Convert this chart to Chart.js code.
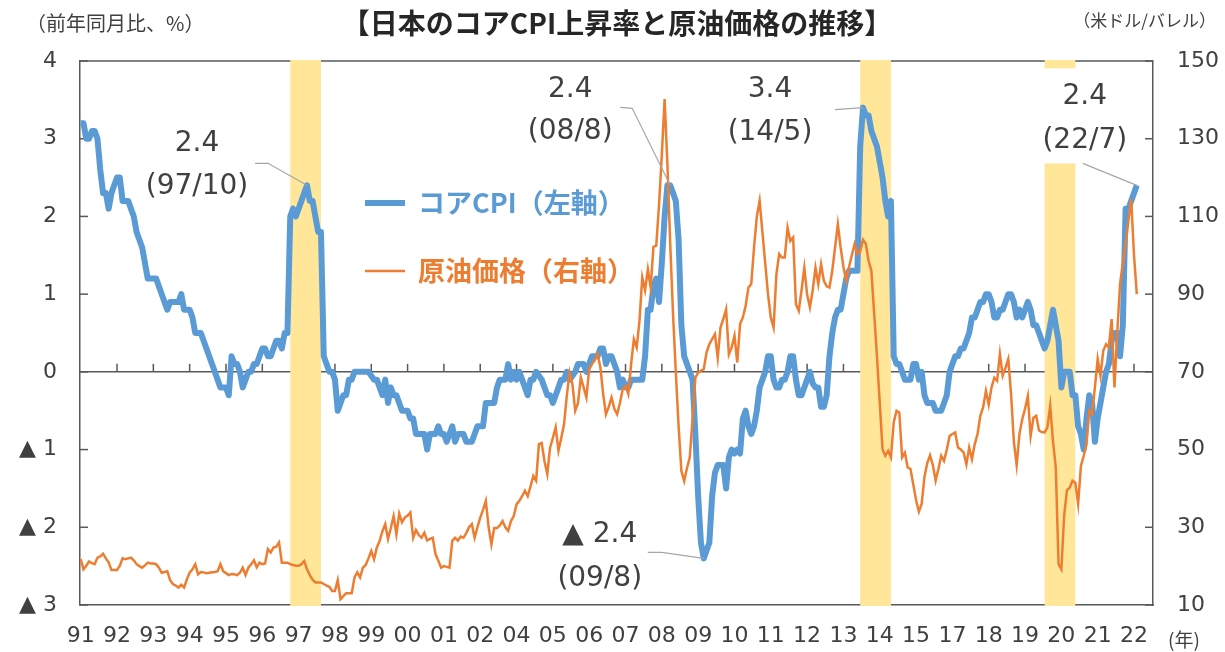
<!DOCTYPE html>
<html>
<head>
<meta charset="utf-8">
<script src="https://cdn.jsdelivr.net/npm/chart.js@4.4.0/dist/chart.umd.min.js"></script>
<style>
  html, body { margin: 0; padding: 0; background: #fff; }
  canvas { display: block; }
</style>
</head>
<body>
<canvas id="chart" width="1225" height="652"></canvas>
<script>
// Monthly data, first point = 1991/1, last point = 2022/7
// Core CPI, % y/y (left axis)
const coreCpi = [
  3.2, 3.2, 3.0, 3.0, 3.1, 3.1, 3.0, 2.6, 2.3, 2.3, 2.1, 2.3,        // 1991
  2.4, 2.5, 2.5, 2.2, 2.2, 2.2, 2.1, 2.0, 1.8, 1.7, 1.6, 1.4,        // 1992
  1.2, 1.2, 1.2, 1.2, 1.1, 1.0, 0.9, 0.8, 0.9, 0.9, 0.9, 0.9,        // 1993
  1.0, 0.8, 0.8, 0.8, 0.7, 0.5, 0.5, 0.5, 0.4, 0.3, 0.2, 0.1,        // 1994
  0.0, -0.1, -0.2, -0.2, -0.2, -0.3, 0.2, 0.1, 0.1, 0.0, -0.2, -0.1, // 1995
  0.0, 0.0, 0.1, 0.1, 0.2, 0.3, 0.3, 0.2, 0.2, 0.3, 0.4, 0.4,        // 1996
  0.3, 0.5, 0.5, 2.0, 2.1, 2.0, 2.1, 2.2, 2.3, 2.4, 2.2, 2.2,        // 1997
  2.0, 1.8, 1.8, 0.2, 0.1, 0.0, 0.0, -0.1, -0.5, -0.4, -0.3, -0.3,   // 1998
  -0.1, -0.1, 0.0, 0.0, 0.0, 0.0, 0.0, 0.0, -0.05, -0.1, -0.1, -0.2, // 1999
  -0.3, -0.1, -0.4, -0.2, -0.3, -0.3, -0.4, -0.5, -0.5, -0.5, -0.6, -0.6, // 2000
  -0.8, -0.8, -0.8, -0.8, -1.0, -0.8, -0.8, -0.8, -0.7, -0.8, -0.8, -0.9, // 2001
  -0.8, -0.7, -0.9, -0.8, -0.8, -0.8, -0.9, -0.9, -0.9, -0.8, -0.7, -0.7, // 2002
  -0.7, -0.4, -0.4, -0.4, -0.4, -0.2, -0.1, -0.1, -0.1, 0.1, -0.1, 0.0,   // 2003
  -0.1, 0.0, -0.1, -0.2, -0.3, -0.1, -0.1, 0.0, -0.05, -0.1, -0.2, -0.3,  // 2004
  -0.3, -0.4, -0.3, -0.2, -0.1, -0.1, 0.0, -0.1, -0.05, 0.0, 0.1, 0.1,    // 2005
  0.1, 0.0, 0.1, 0.2, 0.2, 0.2, 0.3, 0.3, 0.1, 0.2, 0.2, 0.1,        // 2006
  0.0, -0.2, -0.1, -0.2, -0.2, -0.1, -0.1, -0.1, -0.1, -0.1, 0.2, 0.8, // 2007
  0.8, 1.1, 1.2, 0.9, 1.4, 2.0, 2.4, 2.4, 2.3, 2.2, 1.7, 0.6,        // 2008
  0.2, 0.1, 0.0, -0.1, -0.8, -1.6, -2.2, -2.4, -2.3, -2.2, -1.6, -1.3, // 2009
  -1.2, -1.2, -1.2, -1.5, -1.1, -1.0, -1.05, -1.0, -1.05, -0.6, -0.5, -0.7, // 2010
  -0.8, -0.7, -0.5, -0.2, -0.1, 0.0, 0.2, 0.2, -0.1, -0.2, -0.2, -0.1, // 2011
  -0.1, 0.0, 0.2, 0.2, -0.1, -0.3, -0.3, -0.2, -0.1, 0.0, -0.15, -0.2, // 2012
  -0.2, -0.45, -0.45, -0.3, 0.2, 0.5, 0.7, 0.8, 0.8, 1.0, 1.2, 1.3,    // 2013
  1.3, 1.3, 1.3, 2.9, 3.4, 3.3, 3.3, 3.1, 3.0, 2.9, 2.7, 2.5,        // 2014
  2.2, 2.0, 2.2, 0.2, 0.1, 0.1, 0.0, -0.1, -0.1, -0.1, 0.1, 0.1,     // 2015
  -0.1, 0.0, -0.3, -0.4, -0.4, -0.4, -0.5, -0.5, -0.5, -0.4, -0.3, 0.0, // 2016
  0.1, 0.2, 0.2, 0.3, 0.3, 0.4, 0.5, 0.7, 0.7, 0.8, 0.9, 0.9,        // 2017
  1.0, 1.0, 0.9, 0.7, 0.7, 0.8, 0.8, 0.9, 1.0, 1.0, 0.9, 0.7,        // 2018
  0.8, 0.7, 0.8, 0.9, 0.8, 0.6, 0.6, 0.5, 0.4, 0.3, 0.4, 0.6,        // 2019
  0.8, 0.6, 0.4, -0.2, 0.0, 0.0, 0.0, -0.3, -0.3, -0.7, -0.8, -1.0,  // 2020
  -0.6, -0.3, -0.4, -0.9, -0.6, -0.4, -0.2, 0.0, 0.1, 0.4, 0.5, 0.5, // 2021
  0.2, 0.6, 2.1, 2.1, 2.2, 2.3, 2.4                                  // 2022
];

// Crude oil price, USD/bbl (right axis)
const oilPrice = [
  21.8, 19.2, 20.1, 21.2, 20.8, 20.5, 22.2, 22.5, 23.2, 22.0, 21.0, 19.0, // 1991
  19.0, 19.0, 20.1, 22.0, 21.8, 22.0, 22.2, 21.5, 20.5, 20.0, 19.6, 20.2, // 1992
  20.9, 20.7, 20.7, 20.5, 19.6, 18.3, 18.5, 18.7, 16.4, 15.4, 15.0, 14.5, // 1993
  15.2, 14.5, 16.6, 18.3, 19.2, 20.5, 17.9, 18.5, 18.4, 18.2, 18.3, 18.4, // 1994
  18.5, 18.7, 20.5, 18.7, 18.2, 17.7, 18.0, 17.9, 17.7, 18.3, 19.6, 17.7, // 1995
  19.6, 20.5, 21.5, 19.7, 20.9, 20.5, 20.7, 24.4, 23.5, 24.8, 25.0, 26.1, // 1996
  20.9, 20.9, 20.9, 20.5, 20.3, 20.1, 20.1, 20.5, 21.3, 19.2, 17.7, 16.5, // 1997
  15.8, 15.8, 15.8, 15.4, 15.0, 14.7, 13.6, 13.6, 16.4, 11.5, 12.3, 13.0, // 1998
  13.0, 13.0, 17.1, 18.4, 17.1, 19.6, 20.3, 22.0, 23.9, 21.8, 24.8, 26.5, // 1999
  29.0, 30.8, 27.0, 29.8, 32.9, 28.2, 33.5, 31.3, 32.5, 33.0, 33.8, 27.3, // 2000
  29.3, 28.0, 27.3, 28.6, 26.6, 27.0, 27.3, 23.1, 21.4, 19.6, 20.0, 19.8, // 2001
  19.6, 26.5, 27.3, 26.6, 27.6, 27.3, 28.5, 30.0, 30.8, 27.3, 30.0, 32.5, // 2002
  34.5, 36.8, 30.0, 25.6, 29.8, 29.8, 30.5, 31.6, 30.0, 29.1, 31.6, 32.9, // 2003
  35.9, 36.8, 38.0, 39.4, 38.0, 40.5, 43.2, 42.0, 51.4, 51.7, 47.0, 43.7, // 2004
  50.5, 53.0, 55.7, 49.7, 53.0, 56.5, 64.0, 69.8, 66.8, 60.0, 62.0, 68.6, // 2005
  66.0, 63.4, 70.7, 72.0, 73.0, 74.6, 71.2, 64.3, 59.1, 61.0, 63.4, 60.5, // 2006
  59.1, 62.0, 65.5, 66.4, 64.3, 72.0, 78.4, 76.3, 83.1, 94.3, 91.0, 96.4, // 2007
  91.7, 102.2, 102.5, 113.0, 126.0, 140.2, 123.5, 103.0, 85.0, 70.0, 56.0, 44.5, // 2008
  41.9, 45.2, 48.0, 58.0, 68.5, 69.8, 70.3, 70.7, 75.0, 77.1, 78.4, 79.7, // 2009
  73.6, 81.4, 83.6, 86.1, 74.5, 76.3, 79.3, 72.4, 82.3, 84.0, 87.0, 91.7, // 2010
  92.6, 102.0, 110.0, 114.0, 106.0, 98.0, 90.0, 84.0, 81.4, 95.1, 100.3, 99.4, // 2011
  99.4, 107.1, 103.7, 104.6, 87.4, 85.7, 91.0, 96.8, 89.9, 86.6, 91.0, 96.8, // 2012
  92.6, 97.7, 93.4, 92.0, 91.7, 96.0, 102.0, 108.0, 102.0, 97.0, 93.4, 97.0, // 2013
  100.0, 102.9, 100.3, 101.0, 104.0, 103.0, 98.6, 96.0, 85.0, 74.0, 62.0, 50.0, // 2014
  48.4, 49.7, 48.0, 57.0, 60.0, 59.5, 48.0, 49.2, 45.4, 45.0, 41.0, 37.0, // 2015
  34.0, 36.0, 43.0, 46.5, 48.5, 46.0, 42.0, 45.0, 48.4, 47.1, 50.0, 53.5, // 2016
  54.0, 54.4, 50.5, 50.0, 49.3, 46.2, 50.5, 47.5, 51.4, 54.0, 58.7, 60.9, // 2017
  65.1, 61.6, 66.0, 68.5, 67.7, 74.6, 69.0, 71.0, 73.3, 64.3, 52.0, 46.0, // 2018
  54.0, 57.8, 60.5, 63.8, 53.5, 58.2, 58.7, 54.9, 54.5, 54.4, 55.7, 61.3, // 2019
  52.2, 45.4, 20.5, 19.2, 33.0, 39.5, 40.2, 42.0, 41.5, 36.0, 45.8, 48.4, // 2020
  51.4, 60.0, 59.1, 66.0, 73.3, 69.0, 75.4, 77.1, 76.3, 83.6, 66.0, 80.0, // 2021
  92.6, 98.0, 102.9, 108.9, 114.4, 100.0, 90.0                         // 2022
];

// x-axis labels: one every 13 months from 1991/1
const xTickLabels = ['91','92','93','94','95','96','97','98','99','00','01','02',
  '04','05','06','07','08','09','10','11','12','13','14','15','17','18','19','20','21','22'];
const TICK_EVERY = 13;

// consumption tax hikes, month index from 1991/1: 1997/4, 2014/4, 2019/10
const taxHikeStart = [75, 279, 345];
const TAX_SPAN = 11;

// call-outs on the core CPI line
const calloutMonth = [81, 211, 223, 280, 378];
const calloutValue = [2.4, 2.4, -2.4, 3.4, 2.4];
const calloutDate = ['(97/10)', '(08/8)', '(09/8)', '(14/5)', '(22/7)'];

const BLUE = '#5B9BD5', ORANGE = '#ED7D31', BAND = '#FFE699';
const AXIS = '#595959', TEXT = '#404040', LEADER = '#A6A6A6';
const NUM_FONT = "'DejaVu Sans', Verdana, sans-serif";
const JP_FONT = "'Noto Sans CJK JP', 'Noto Sans', sans-serif";

// where each call-out label sits, relative to its point
const calloutLayout = [
  { tx: -110, ty1: -42, ty2: 1, path: [[-52, -22], [-39, -22]] },
  { tx: -100, ty1: -96, ty2: -54, path: [[-50, -78], [-38, -77]] },
  { tx: -104, ty1: -24, ty2: 20, path: [[-56, -6], [-42, -6]] },
  { tx: -93, ty1: -18, ty2: 25, path: [[-28, 2]] },
  { tx: -52, ty1: -89, ty2: -45, path: [[-54, -22]], box: [-102, -117, 100, 95] }
];

function polyline(ctx, pts) {
  ctx.beginPath();
  ctx.moveTo(pts[0][0], pts[0][1]);
  for (let i = 1; i < pts.length; i++) ctx.lineTo(pts[i][0], pts[i][1]);
  ctx.stroke();
}

const decorations = {
  id: 'decorations',
  beforeDatasetsDraw(chart) {
    const { ctx, chartArea: a, scales: { x, y, y2 } } = chart;
    ctx.save();
    ctx.strokeStyle = AXIS;
    ctx.lineWidth = 1.5;
    polyline(ctx, [[a.left, a.top], [a.right, a.top]]);
    // tick marks point into the plot
    y.ticks.forEach(t => {
      const py = y.getPixelForValue(t.value);
      polyline(ctx, [[a.left, py], [a.left + 8, py]]);
    });
    y2.ticks.forEach(t => {
      const py = y2.getPixelForValue(t.value);
      polyline(ctx, [[a.right - 8, py], [a.right, py]]);
    });
    const zero = y.getPixelForValue(0);
    for (let i = 1; i < xTickLabels.length; i++) {
      const px = x.getPixelForValue(i * TICK_EVERY);
      polyline(ctx, [[px, zero - 8], [px, zero]]);
    }
    // tax hike bands
    ctx.fillStyle = BAND;
    taxHikeStart.forEach(s => {
      const x0 = x.getPixelForValue(s), x1 = x.getPixelForValue(s + TAX_SPAN);
      ctx.fillRect(x0, a.top - 1, x1 - x0, a.bottom - a.top + 2);
    });
    // label boxes with white fill
    ctx.fillStyle = '#fff';
    calloutLayout.forEach((l, i) => {
      if (!l.box) return;
      const px = x.getPixelForValue(calloutMonth[i]), py = y.getPixelForValue(calloutValue[i]);
      ctx.fillRect(px + l.box[0], py + l.box[1], l.box[2], l.box[3]);
    });
    ctx.restore();
  },
  afterDatasetsDraw(chart) {
    const { ctx, scales: { x, y } } = chart;
    ctx.save();
    // call-outs
    calloutLayout.forEach((l, i) => {
      const px = x.getPixelForValue(calloutMonth[i]), py = y.getPixelForValue(calloutValue[i]);
      ctx.strokeStyle = LEADER;
      ctx.lineWidth = 1.2;
      polyline(ctx, l.path.map(p => [px + p[0], py + p[1]]).concat([[px, py]]));
      const v = calloutValue[i];
      const num = v < 0 ? '▲ ' + Math.abs(v).toFixed(1) : v.toFixed(1);
      ctx.fillStyle = TEXT;
      ctx.font = '28px ' + NUM_FONT;
      ctx.textAlign = 'center';
      ctx.textBaseline = 'middle';
      ctx.fillText(num, px + l.tx, py + l.ty1);
      ctx.fillText(calloutDate[i], px + l.tx, py + l.ty2);
    });

    // legend inside plot
    ctx.lineCap = 'butt';
    ctx.strokeStyle = BLUE; ctx.lineWidth = 6;
    polyline(ctx, [[365, 203], [405, 203]]);
    ctx.strokeStyle = ORANGE; ctx.lineWidth = 2.5;
    polyline(ctx, [[365, 271], [405, 271]]);
    ctx.textAlign = 'left';
    ctx.textBaseline = 'middle';
    ctx.font = 'bold 27px ' + JP_FONT;
    ctx.fillStyle = BLUE;
    ctx.fillText('コアCPI（左軸）', 418, 203);
    ctx.fillStyle = ORANGE;
    ctx.fillText('原油価格（右軸）', 418, 271);

    // title and unit labels
    ctx.fillStyle = '#262626';
    ctx.textAlign = 'center';
    ctx.font = 'bold 28px ' + JP_FONT;
    ctx.fillText('【日本のコアCPI上昇率と原油価格の推移】', 617, 23);
    ctx.fillStyle = TEXT;
    ctx.font = '20px ' + JP_FONT;
    ctx.textAlign = 'left';
    ctx.fillText('（前年同月比、%）', 26, 23);
    ctx.font = '17px ' + JP_FONT;
    ctx.textAlign = 'right';
    ctx.fillText('（米ドル/バレル）', 1216, 21);
    ctx.textAlign = 'left';
    ctx.font = '19px ' + JP_FONT;
    ctx.fillText('(年)', 1168, 640);
    ctx.restore();
  }
};

const tickFont = { family: NUM_FONT, size: 22 };

new Chart(document.getElementById('chart'), {
  type: 'line',
  data: {
    datasets: [
      {
        label: '原油価格（右軸）',
        data: oilPrice.map((v, i) => ({ x: i, y: v })),
        yAxisID: 'y2',
        borderColor: ORANGE,
        borderWidth: 2.5,
        pointRadius: 0,
        tension: 0
      },
      {
        label: 'コアCPI（左軸）',
        data: coreCpi.map((v, i) => ({ x: i, y: v })),
        yAxisID: 'y',
        borderColor: BLUE,
        borderWidth: 6,
        borderJoinStyle: 'round',
        pointRadius: 0,
        tension: 0
      }
    ]
  },
  options: {
    responsive: false,
    animation: false,
    events: [],
    layout: { padding: { top: 61 } },
    plugins: { legend: { display: false }, tooltip: { enabled: false } },
    scales: {
      x: {
        type: 'linear',
        min: -0.25,
        max: 383.8,
        afterBuildTicks: s => { s.ticks = xTickLabels.map((_, i) => ({ value: i * TICK_EVERY })); },
        afterFit: s => { s.height = 47; },
        ticks: {
          autoSkip: false, maxRotation: 0, minRotation: 0,
          callback: (v, i) => xTickLabels[i],
          font: tickFont, color: TEXT, padding: 18
        },
        grid: { display: false, drawTicks: false },
        border: { display: true, color: AXIS, width: 1.5 }
      },
      y: {
        position: 'left',
        min: -3, max: 4,
        afterFit: s => { s.width = 80; },
        ticks: {
          stepSize: 1,
          callback: v => v < 0 ? '▲ ' + (-v) : String(v),
          font: tickFont, color: TEXT, padding: 23
        },
        grid: {
          drawTicks: false,
          lineWidth: 1.5,
          color: c => c.tick && c.tick.value === 0 ? AXIS : 'rgba(0,0,0,0)'
        },
        border: { display: true, color: AXIS, width: 1.5 }
      },
      y2: {
        position: 'right',
        min: 10, max: 150,
        afterFit: s => { s.width = 72; },
        ticks: { stepSize: 20, font: tickFont, color: TEXT, padding: 24 },
        grid: { display: false, drawTicks: false },
        border: { display: true, color: AXIS, width: 1.5 }
      }
    }
  },
  plugins: [decorations]
});
</script>
</body>
</html>
